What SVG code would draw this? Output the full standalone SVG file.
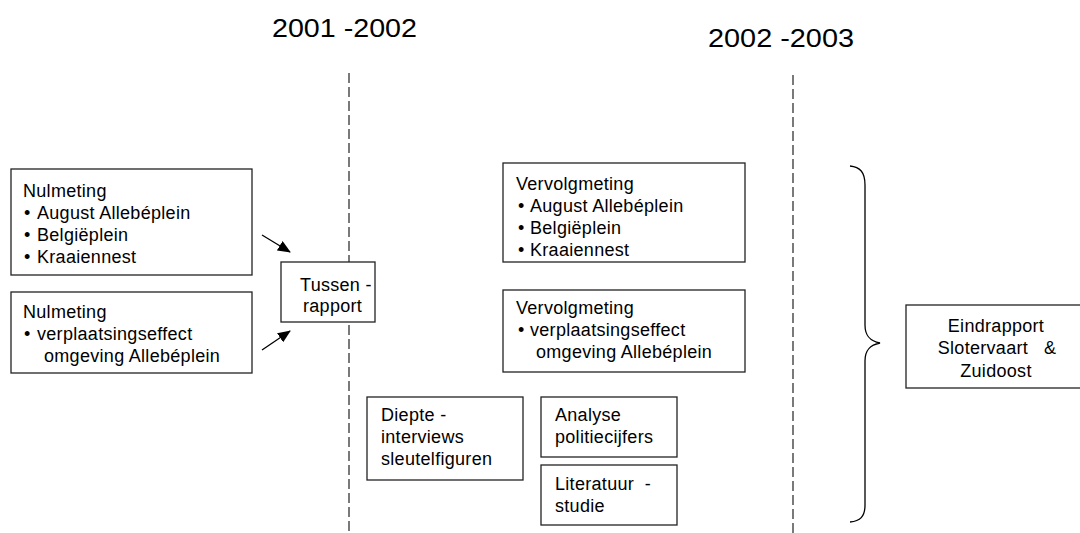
<svg xmlns="http://www.w3.org/2000/svg" width="1080" height="533" viewBox="0 0 1080 533">
<style>
text{font-family:"Liberation Sans",Arial,sans-serif;fill:#000;}
.t{font-size:18px;letter-spacing:0.3px;}
.h{font-size:25px;}
.box{fill:#fff;stroke:#222;stroke-width:1.3;}
.dash{stroke:#333;stroke-width:1.3;stroke-dasharray:10 4;fill:none;}
.arr{stroke:#000;stroke-width:1.3;fill:none;marker-end:url(#ah);}
</style>
<defs>
<marker id="ah" markerWidth="13" markerHeight="11" refX="12" refY="5.5" orient="auto" markerUnits="userSpaceOnUse">
<path d="M0,0 L13,5.5 L0,11 Z" fill="#000"/>
</marker>
</defs>
<rect width="1080" height="533" fill="#fff"/>
<g id="timeline">
<text class="h" x="272" y="37" textLength="145" lengthAdjust="spacingAndGlyphs">2001 -2002</text>
<text class="h" x="708" y="47" textLength="146" lengthAdjust="spacingAndGlyphs">2002 -2003</text>
<line class="dash" x1="349" y1="73" x2="349" y2="533"/>
<line class="dash" x1="793" y1="75" x2="793" y2="533"/>
</g>
<g id="connectors">
<line class="arr" x1="262" y1="235" x2="290" y2="252"/>
<line class="arr" x1="262" y1="350" x2="290" y2="331"/>
<path d="M850,166 C860,167 865,172 865,185 L865,325 C865,336 870,341 880,343 C870,345 865,350 865,361 L865,505 C865,517 860,521 850,522" fill="none" stroke="#000" stroke-width="1.3"/>
</g>
<g id="nulmeting1">
<rect class="box" x="11" y="169" width="241" height="106"/>
<text class="t" x="23" y="197">Nulmeting</text>
<text class="t" y="219"><tspan x="24">•</tspan><tspan x="37">August Allebéplein</tspan></text>
<text class="t" y="241"><tspan x="24">•</tspan><tspan x="37">Belgiëplein</tspan></text>
<text class="t" y="263"><tspan x="24">•</tspan><tspan x="37">Kraaiennest</tspan></text>
</g>
<g id="nulmeting2">
<rect class="box" x="11" y="292" width="241" height="81"/>
<text class="t" x="23" y="318">Nulmeting</text>
<text class="t" y="340"><tspan x="24">•</tspan><tspan x="37">verplaatsingseffect</tspan></text>
<text class="t" x="44" y="362">omgeving Allebéplein</text>
</g>
<g id="tussenrapport">
<rect class="box" x="281" y="262" width="94" height="60"/>
<text class="t" x="300" y="291">Tussen -</text>
<text class="t" x="303" y="312">rapport</text>
</g>
<g id="vervolgmeting1">
<rect class="box" x="503" y="163" width="242" height="99"/>
<text class="t" x="516" y="190">Vervolgmeting</text>
<text class="t" y="212"><tspan x="518">•</tspan><tspan x="530">August Allebéplein</tspan></text>
<text class="t" y="234"><tspan x="518">•</tspan><tspan x="530">Belgiëplein</tspan></text>
<text class="t" y="256"><tspan x="518">•</tspan><tspan x="530">Kraaiennest</tspan></text>
</g>
<g id="vervolgmeting2">
<rect class="box" x="503" y="290" width="242" height="82"/>
<text class="t" x="516" y="314">Vervolgmeting</text>
<text class="t" y="336"><tspan x="518">•</tspan><tspan x="530">verplaatsingseffect</tspan></text>
<text class="t" x="536" y="358">omgeving Allebéplein</text>
</g>
<g id="diepte">
<rect class="box" x="367" y="397" width="156" height="83"/>
<text class="t" x="381" y="421">Diepte -</text>
<text class="t" x="381" y="443">interviews</text>
<text class="t" x="381" y="465">sleutelfiguren</text>
</g>
<g id="analyse">
<rect class="box" x="541" y="397" width="136" height="60"/>
<text class="t" x="555" y="421">Analyse</text>
<text class="t" x="555" y="443">politiecijfers</text>
</g>
<g id="literatuur">
<rect class="box" x="541" y="465" width="136" height="60"/>
<text class="t" x="555" y="490" xml:space="preserve">Literatuur  -</text>
<text class="t" x="555" y="512">studie</text>
</g>
<g id="eindrapport">
<rect class="box" x="906" y="305" width="180" height="83"/>
<text class="t" x="996" y="332" text-anchor="middle">Eindrapport</text>
<text class="t" x="997" y="354" text-anchor="middle" xml:space="preserve">Slotervaart   &amp;</text>
<text class="t" x="996" y="377" text-anchor="middle">Zuidoost</text>
</g>
</svg>
